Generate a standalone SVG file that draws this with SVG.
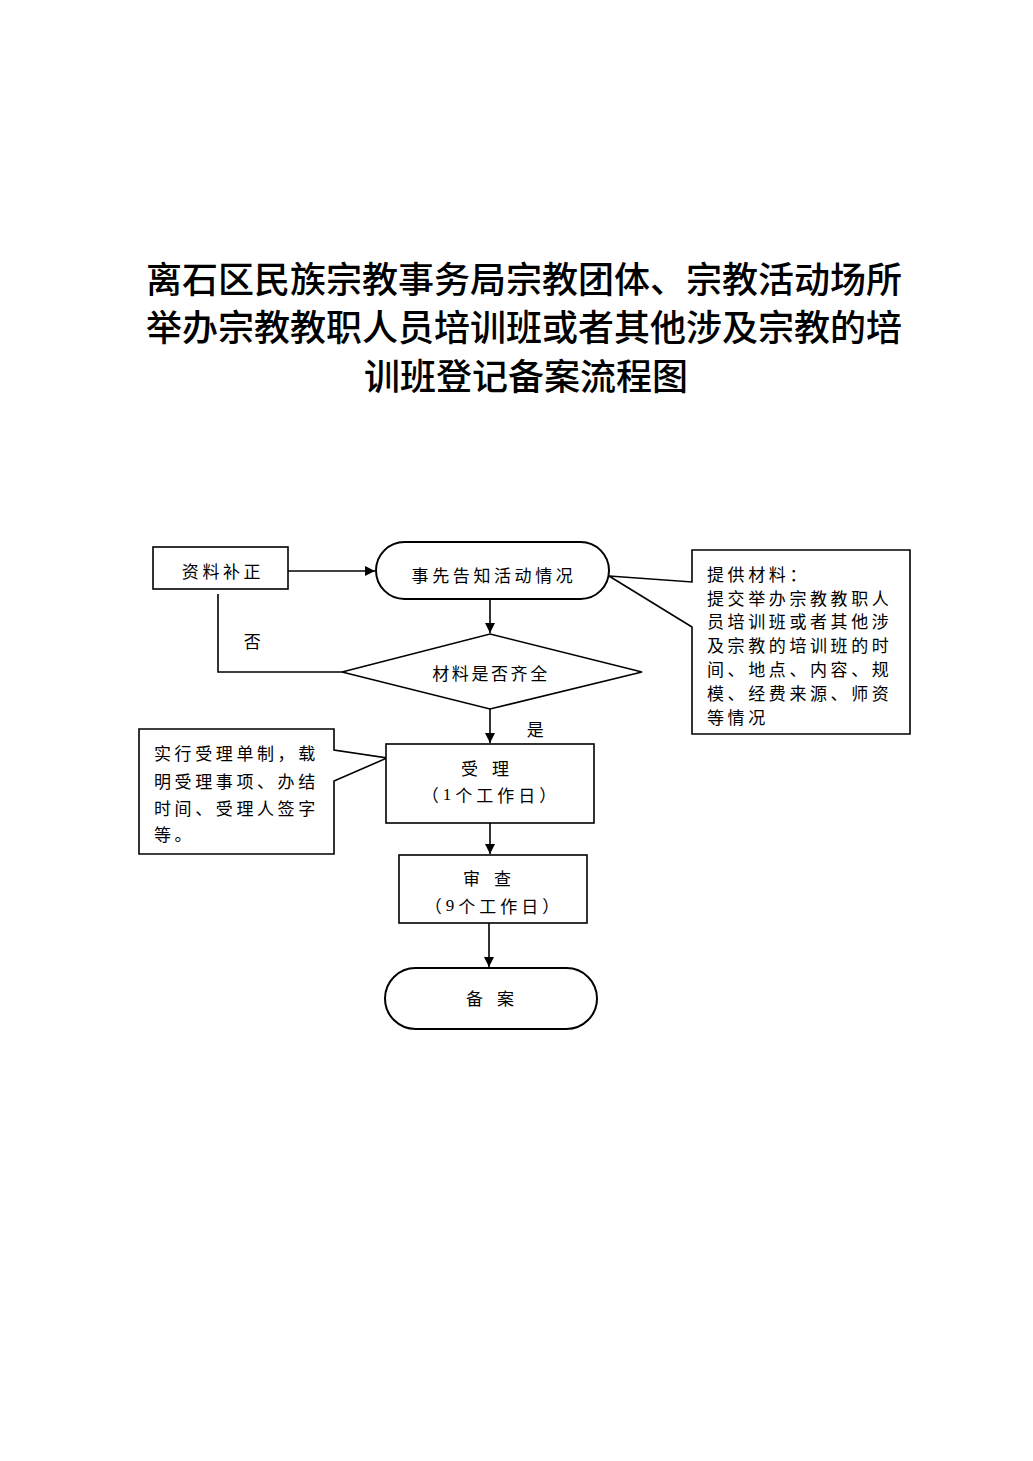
<svg xmlns="http://www.w3.org/2000/svg" width="1033" height="1461" viewBox="0 0 1033 1461">
<style>
.t{font-family:"Noto Sans CJK SC","Liberation Sans",sans-serif;fill:#000}
.title{font-size:36px;font-weight:500;text-anchor:middle}
.lbl{font-size:17px;letter-spacing:3.6px;dominant-baseline:central}
.c{text-anchor:middle}
.d{font-family:"Liberation Serif",serif}
.box{fill:#fff;stroke:#000;stroke-width:1.6}
.term{fill:#fff;stroke:#000;stroke-width:2}
.ln{fill:none;stroke:#000;stroke-width:1.6}
</style>
<defs>
<marker id="ah" viewBox="0 0 10 10" refX="10" refY="5" markerWidth="10" markerHeight="10" markerUnits="userSpaceOnUse" orient="auto">
<path d="M0,0 L10,5 L0,10 z" fill="#000"/>
</marker>
</defs>
<rect width="1033" height="1461" fill="#fff"/>
<g id="title">
<text class="t title" x="524" y="293">离石区民族宗教事务局宗教团体、宗教活动场所</text>
<text class="t title" x="524" y="341">举办宗教教职人员培训班或者其他涉及宗教的培</text>
<text class="t title" x="526" y="390">训班登记备案流程图</text>
</g>
<g id="connectors">
<line class="ln" x1="288" y1="571" x2="375" y2="571" marker-end="url(#ah)"/>
<line class="ln" x1="490" y1="599" x2="490" y2="633" marker-end="url(#ah)"/>
<polyline class="ln" points="342,672 218,672 218,594"/>
<line class="ln" x1="490" y1="709" x2="490" y2="743" marker-end="url(#ah)"/>
<line class="ln" x1="490" y1="823" x2="490" y2="854" marker-end="url(#ah)"/>
<line class="ln" x1="489" y1="923" x2="489" y2="967" marker-end="url(#ah)"/>
<text class="t lbl c" x="254" y="640">否</text>
<text class="t lbl c" x="537" y="728">是</text>
</g>
<g id="n-buzheng">
<rect class="box" x="153" y="547" width="135" height="42"/>
<text class="t lbl c" x="223" y="570">资料补正</text>
</g>
<g id="n-gaozhi">
<rect class="term" x="376" y="542" width="233" height="57" rx="28.5" ry="28.5"/>
<text class="t lbl c" x="494" y="574">事先告知活动情况</text>
</g>
<g id="n-callout-right">
<path class="box" d="M692,582 L692,550 L910,550 L910,734 L692,734 L692,627 L609,576 Z"/>
<text class="t lbl" x="707" y="573">提供材料：</text>
<text class="t lbl" x="707" y="597">提交举办宗教教职人</text>
<text class="t lbl" x="707" y="620">员培训班或者其他涉</text>
<text class="t lbl" x="707" y="644">及宗教的培训班的时</text>
<text class="t lbl" x="707" y="668">间、地点、内容、规</text>
<text class="t lbl" x="707" y="692">模、经费来源、师资</text>
<text class="t lbl" x="707" y="716">等情况</text>
</g>
<g id="n-qiquan">
<polygon class="box" points="490,634 642,672 490,709 342,672"/>
<text class="t lbl c" x="491" y="672" style="letter-spacing:2.6px">材料是否齐全</text>
</g>
<g id="n-callout-left">
<path class="box" d="M334,750 L334,729 L139,729 L139,854 L334,854 L334,781 L387,758 Z"/>
<text class="t lbl" x="154" y="752">实行受理单制，载</text>
<text class="t lbl" x="154" y="780">明受理事项、办结</text>
<text class="t lbl" x="154" y="807">时间、受理人签字</text>
<text class="t lbl" x="154" y="833">等。</text>
</g>
<g id="n-shouli">
<rect class="box" x="386" y="744" width="208" height="79"/>
<text class="t lbl c" x="492" y="767" style="letter-spacing:14px">受理</text>
<text class="t lbl c" x="491" y="794" style="letter-spacing:4px">（<tspan class="d">1</tspan>个工作日）</text>
</g>
<g id="n-shencha">
<rect class="box" x="399" y="855" width="188" height="68"/>
<text class="t lbl c" x="494" y="877" style="letter-spacing:14px">审查</text>
<text class="t lbl c" x="494" y="905" style="letter-spacing:4px">（<tspan class="d">9</tspan>个工作日）</text>
</g>
<g id="n-beian">
<rect class="term" x="385" y="968" width="212" height="61" rx="30.5" ry="30.5"/>
<text class="t lbl c" x="497" y="997" style="letter-spacing:14px">备案</text>
</g>
</svg>
